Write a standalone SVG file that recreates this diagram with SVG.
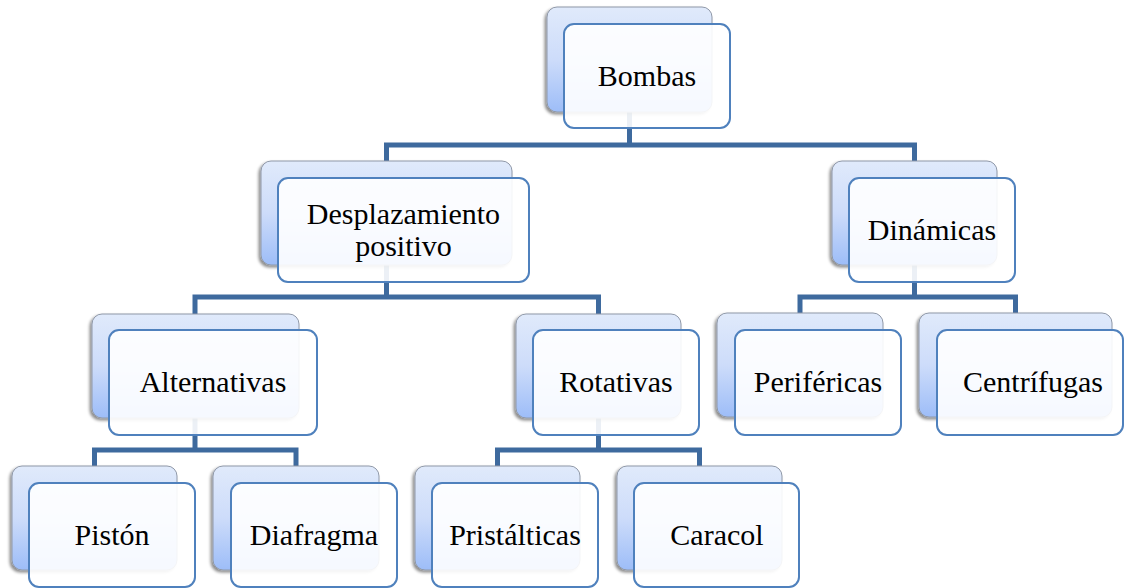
<svg xmlns="http://www.w3.org/2000/svg" width="1124" height="588" viewBox="0 0 1124 588">
  <defs>
    <linearGradient id="backGrad" x1="0" y1="0" x2="0" y2="1">
      <stop offset="0" stop-color="#e0eafb"/>
      <stop offset="0.5" stop-color="#cddcfa"/>
      <stop offset="1" stop-color="#9dbdf8"/>
    </linearGradient>
    <filter id="shadow" x="-10%" y="-10%" width="120%" height="130%">
      <feDropShadow dx="-2" dy="2" stdDeviation="1.8" flood-color="#000" flood-opacity="0.45"/>
    </filter>
    <style>
      .back { fill: url(#backGrad); stroke: #8f98a8; stroke-width: 1; filter: url(#shadow); }
      .front { fill: #ffffff; fill-opacity: 0.9; stroke: #4f81bd; stroke-width: 2; }
      .lbl { font-family: "Liberation Serif", "Times New Roman", serif; font-size: 30px; fill: #000; text-anchor: middle; }
      .conn { fill: none; stroke: #3e6a9e; stroke-width: 5; stroke-linejoin: miter; stroke-linecap: butt; }
    </style>
  </defs>
  <rect width="1124" height="588" fill="#ffffff"/>

  <g id="connectors">
    <path class="conn" d="M629.5,112 V145 M386.5,161 V145 H914.5 V161"/>
    <path class="conn" d="M386.5,265 V297 M195,314 V297 H598.5 V314"/>
    <path class="conn" d="M914.5,265 V297 M800,313 V297 H1015.5 V313"/>
    <path class="conn" d="M195,418 V450 M94.5,466 V450 H296 V466"/>
    <path class="conn" d="M598.5,418 V450 M497.5,466 V450 H699.5 V466"/>
  </g>

  <g id="bombas">
    <rect class="back" x="547" y="7" width="165" height="105" rx="10"/>
    <rect class="front" x="564" y="24" width="166" height="104" rx="10"/>
    <text class="lbl" x="647" y="86">Bombas</text>
  </g>

  <g id="desplazamiento">
    <rect class="back" x="261" y="161" width="251" height="104" rx="10"/>
    <rect class="front" x="278" y="178" width="251" height="104" rx="10"/>
    <text class="lbl" x="403.5" y="224"><tspan x="403.5" y="224">Desplazamiento</tspan><tspan x="403.5" y="256">positivo</tspan></text>
  </g>

  <g id="dinamicas">
    <rect class="back" x="832" y="161" width="165" height="104" rx="10"/>
    <rect class="front" x="849" y="178" width="166" height="104" rx="10"/>
    <text class="lbl" x="932" y="240">Dinámicas</text>
  </g>

  <g id="alternativas">
    <rect class="back" x="92" y="314" width="207" height="104" rx="10"/>
    <rect class="front" x="109" y="330" width="208" height="105" rx="10"/>
    <text class="lbl" x="213" y="392">Alternativas</text>
  </g>

  <g id="rotativas">
    <rect class="back" x="516" y="314" width="165" height="104" rx="10"/>
    <rect class="front" x="533" y="330" width="166" height="105" rx="10"/>
    <text class="lbl" x="616" y="392">Rotativas</text>
  </g>

  <g id="perifericas">
    <rect class="back" x="717" y="313" width="166" height="104" rx="10"/>
    <rect class="front" x="735" y="330" width="166" height="105" rx="10"/>
    <text class="lbl" x="818" y="392">Periféricas</text>
  </g>

  <g id="centrifugas">
    <rect class="back" x="919" y="313" width="193" height="104" rx="10"/>
    <rect class="front" x="937" y="330" width="186" height="105" rx="10"/>
    <text class="lbl" x="1033" y="392">Centrífugas</text>
  </g>

  <g id="piston">
    <rect class="back" x="12" y="466" width="165" height="104" rx="10"/>
    <rect class="front" x="29" y="483" width="166" height="104" rx="10"/>
    <text class="lbl" x="112" y="545">Pistón</text>
  </g>

  <g id="diafragma">
    <rect class="back" x="213" y="466" width="166" height="104" rx="10"/>
    <rect class="front" x="231" y="483" width="166" height="104" rx="10"/>
    <text class="lbl" x="314" y="545">Diafragma</text>
  </g>

  <g id="pristalticas">
    <rect class="back" x="415" y="466" width="165" height="104" rx="10"/>
    <rect class="front" x="432" y="483" width="166" height="104" rx="10"/>
    <text class="lbl" x="515" y="545">Pristálticas</text>
  </g>

  <g id="caracol">
    <rect class="back" x="617" y="466" width="165" height="104" rx="10"/>
    <rect class="front" x="634" y="483" width="165" height="104" rx="10"/>
    <text class="lbl" x="717" y="545">Caracol</text>
  </g>
</svg>
